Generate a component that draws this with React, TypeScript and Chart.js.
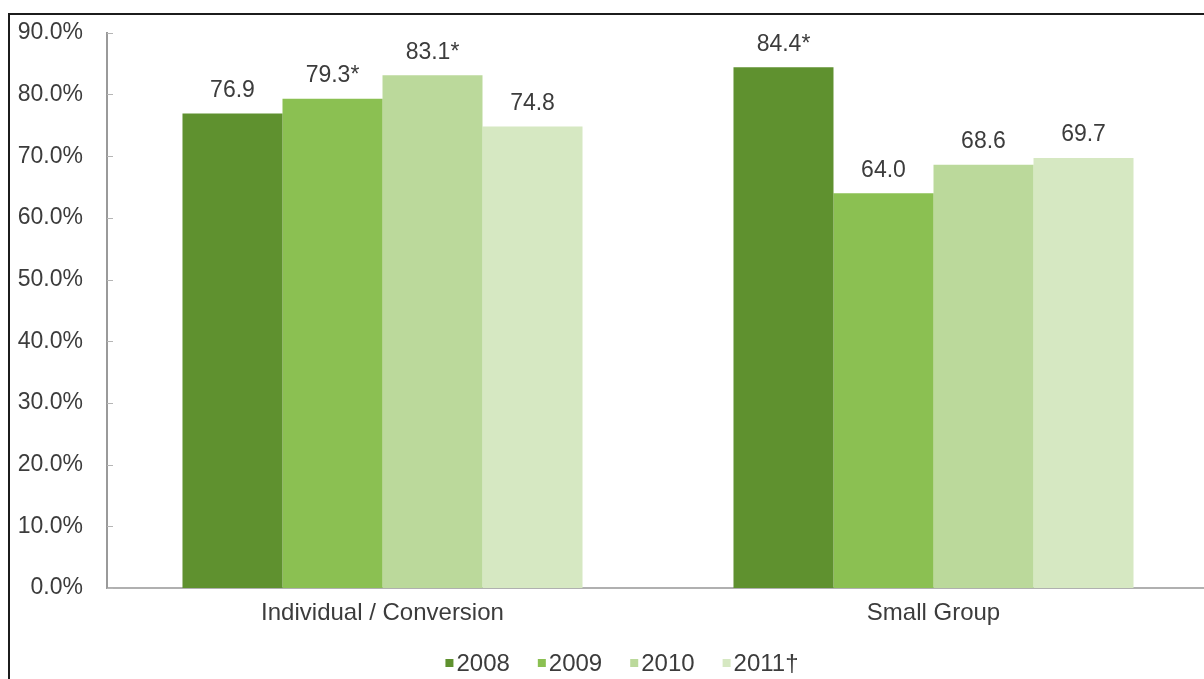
import React, { useEffect, useRef } from "react";
import { Chart, registerables } from "chart.js";

Chart.register(...registerables);

// Categories, series and their labels
const categories = ["Individual / Conversion", "Small Group"];
const seriesNames = ["2008", "2009", "2010", "2011†"];
const values2008 = [76.9, 84.4];
const values2009 = [79.3, 64.0];
const values2010 = [83.1, 68.6];
const values2011 = [74.8, 69.7];
// Values marked with an asterisk in their label
const starred2008 = [false, true];
const starred2009 = [true, false];
const starred2010 = [true, false];
const starred2011 = [false, false];
const yTickValues = [0, 10, 20, 30, 40, 50, 60, 70, 80, 90];

const seriesColors = ["#5f912f", "#8bc052", "#bbd99b", "#d6e8c2"];

const FONT = "'Liberation Sans', Arial, sans-serif";
const TEXT_COLOR = "#3c3c3c";
const FONT_SIZE = 23;
const CATEGORY_FONT_SIZE = 24;

const allValues = [values2008, values2009, values2010, values2011];
const allStarred = [starred2008, starred2009, starred2010, starred2011];

// Value labels above each bar
const valueLabels = {
  id: "valueLabels",
  afterDatasetsDraw(chart: any) {
    const ctx = chart.ctx;
    ctx.save();
    ctx.font = `${FONT_SIZE}px ${FONT}`;
    ctx.fillStyle = TEXT_COLOR;
    ctx.textAlign = "center";
    ctx.textBaseline = "middle";
    chart.data.datasets.forEach((ds: any, di: number) => {
      const meta = chart.getDatasetMeta(di);
      meta.data.forEach((bar: any, i: number) => {
        const v = ds.data[i] as number;
        const txt = v.toFixed(1) + (allStarred[di][i] ? "*" : "");
        ctx.fillText(txt, bar.x, bar.y - 23);
      });
    });
    ctx.restore();
  },
};

// Short tick marks on the inner side of the value axis
const yTickMarks = {
  id: "yTickMarks",
  afterDraw(chart: any) {
    const y = chart.scales.y;
    const ctx = chart.ctx;
    ctx.save();
    ctx.strokeStyle = "#b5b5b5";
    ctx.lineWidth = 1;
    y.ticks.forEach((t: any) => {
      const py = Math.round(y.getPixelForValue(t.value)) + 0.5;
      ctx.beginPath();
      ctx.moveTo(y.right, py);
      ctx.lineTo(y.right + 6, py);
      ctx.stroke();
    });
    ctx.restore();
  },
};

// Compact legend centred under the plot
const bottomLegend = {
  id: "bottomLegend",
  afterDraw(chart: any) {
    const ctx = chart.ctx;
    const box = 8;
    const gap = 3;
    const spacing = 28;
    ctx.save();
    ctx.font = `${CATEGORY_FONT_SIZE}px ${FONT}`;
    ctx.textBaseline = "middle";
    ctx.textAlign = "left";
    const widths = seriesNames.map((n) => box + gap + ctx.measureText(n).width);
    const total = widths.reduce((a, b) => a + b, 0) + spacing * (widths.length - 1);
    let x = chart.width / 2 - total / 2;
    const cy = chart.chartArea.bottom + 75;
    seriesNames.forEach((n, i) => {
      ctx.fillStyle = seriesColors[i];
      ctx.fillRect(x, cy - box / 2, box, box);
      ctx.fillStyle = TEXT_COLOR;
      ctx.fillText(n, x + box + gap, cy + 1);
      x += widths[i] + spacing;
    });
    ctx.restore();
  },
};

export default function App() {
  const canvasRef = useRef<HTMLCanvasElement | null>(null);

  useEffect(() => {
    const canvas = canvasRef.current;
    if (!canvas) return;
    const chart = new Chart(canvas, {
      type: "bar",
      data: {
        labels: categories,
        datasets: seriesNames.map((name, i) => ({
          label: name,
          data: allValues[i],
          backgroundColor: seriesColors[i],
          borderWidth: 0,
          categoryPercentage: 0.726,
          barPercentage: 1.0,
        })),
      },
      options: {
        responsive: false,
        animation: false,
        devicePixelRatio: 1,
        layout: { padding: { top: 0, right: 25, bottom: 47, left: 0 } },
        plugins: {
          legend: { display: false },
          tooltip: { enabled: false },
          title: { display: false },
        },
        scales: {
          x: {
            grid: { display: false, drawTicks: false },
            border: { display: true, color: "#b0b0b0", width: 2 },
            ticks: {
              padding: 11,
              color: TEXT_COLOR,
              font: { family: FONT, size: CATEGORY_FONT_SIZE },
            },
            afterFit(scale: any) {
              scale.height = 60;
            },
          },
          y: {
            min: 0,
            max: 90,
            afterBuildTicks(scale: any) {
              scale.ticks = yTickValues.map((v) => ({ value: v }));
            },
            grid: { display: false, drawTicks: false },
            border: { display: true, color: "#9a9a9a", width: 2 },
            ticks: {
              padding: 24,
              color: TEXT_COLOR,
              font: { family: FONT, size: FONT_SIZE },
              callback: (v: any) => Number(v).toFixed(1) + "%",
            },
            afterFit(scale: any) {
              scale.width = 97;
            },
          },
        },
      },
      plugins: [valueLabels, yTickMarks, bottomLegend],
    });
    return () => chart.destroy();
  }, []);

  return (
    <div
      style={{
        position: "fixed",
        left: 8,
        top: 13,
        width: 1240,
        height: 700,
        overflow: "hidden",
        borderLeft: "2px solid #1c1c1c",
        borderTop: "2px solid #1c1c1c",
        background: "#ffffff",
      }}
    >
      <canvas
        ref={canvasRef}
        width={1224}
        height={700}
        style={{ display: "block", width: 1224, height: 700, marginTop: -20 }}
      />
    </div>
  );
}
